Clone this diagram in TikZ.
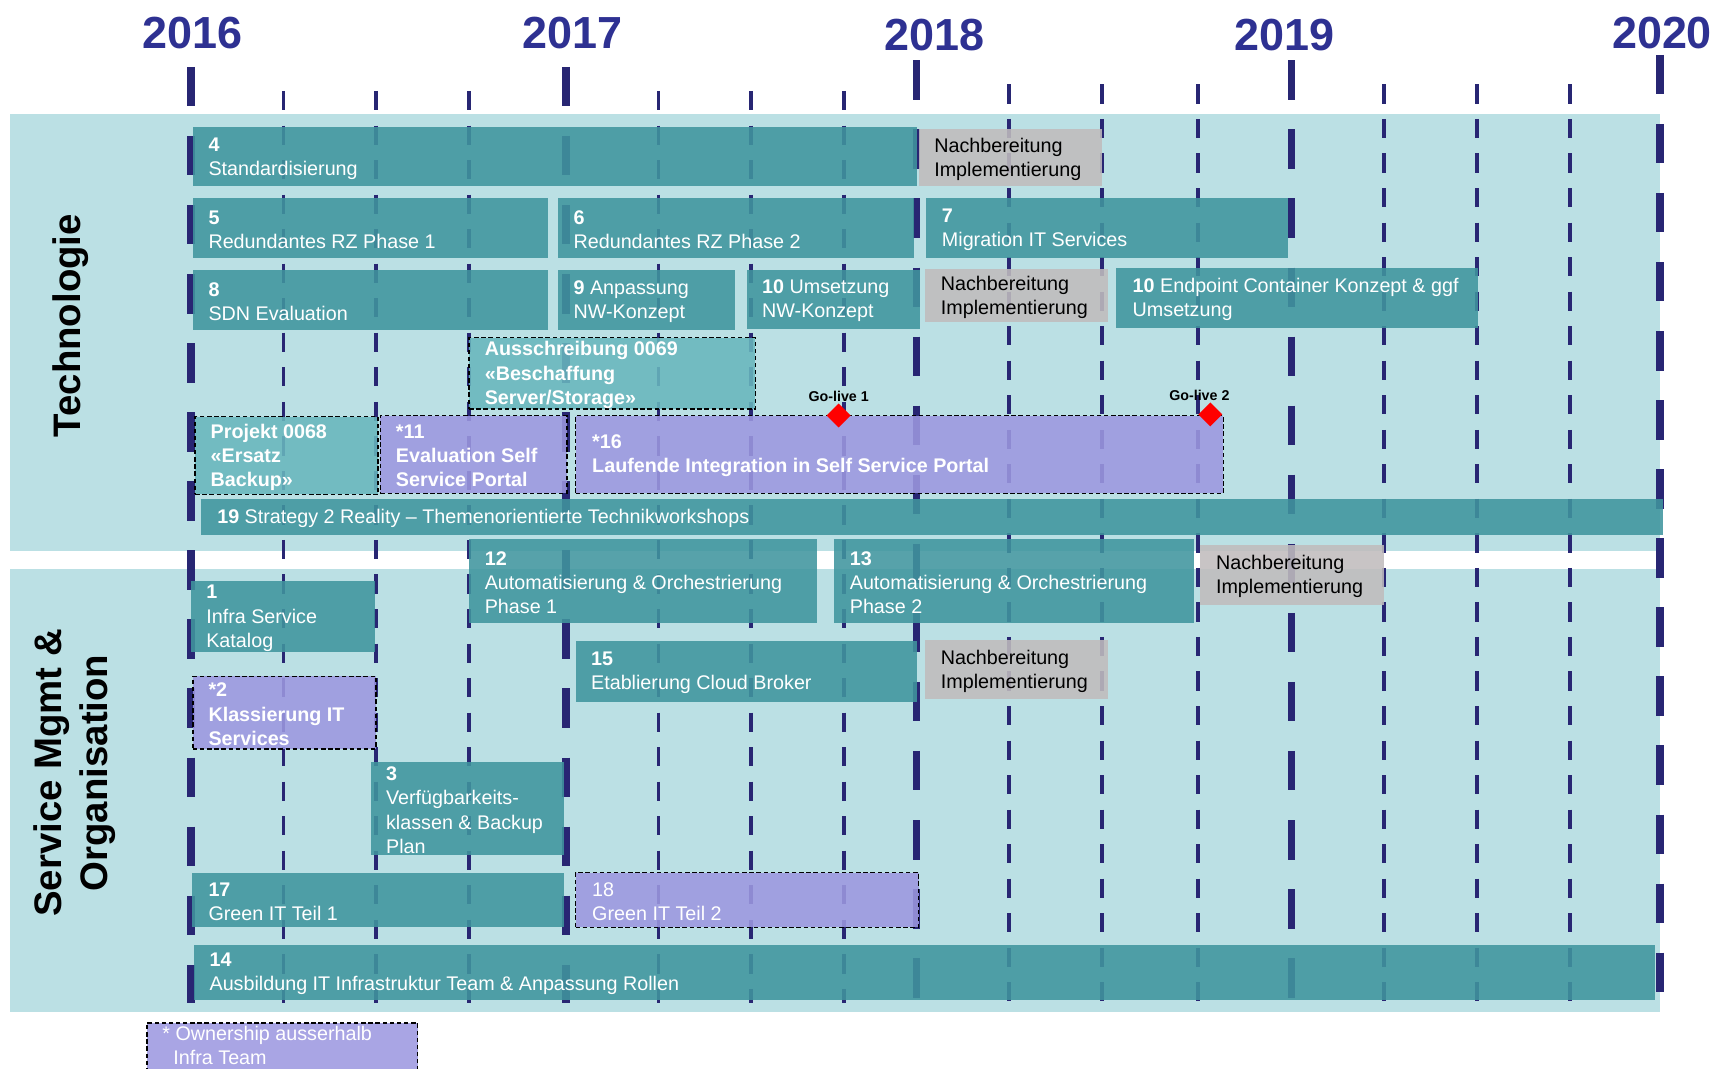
\documentclass[tikz,border=0pt]{standalone}
\usepackage{fontspec}
\setmainfont{Liberation Sans}
\usetikzlibrary{positioning,shapes.geometric}

\definecolor{bandbg}{RGB}{187,224,228}
\definecolor{gridblue}{RGB}{40,38,115}
\definecolor{yearblue}{RGB}{46,49,146}
\definecolor{taskteal}{RGB}{64,149,158}
\definecolor{tenderteal}{RGB}{104,183,189}
\definecolor{extpurple}{RGB}{157,152,224}
\definecolor{followgrey}{RGB}{192,188,189}

\tikzset{
  band/.style={fill=bandbg},
  yearline/.style={draw=gridblue, line width=7pt, dash pattern=on 36pt off 27pt},
  qline/.style={draw=gridblue, line width=3.5pt, dash pattern=on 17.5pt off 14pt},
  box/.style={anchor=north west, inner sep=0pt, outer sep=0pt, fill opacity=0.88},
  sz/.style 2 args={minimum width=#1pt, minimum height=#2pt},
  task/.style={box, fill=taskteal},
  follow/.style={box, fill=followgrey},
  ext/.style={box, fill=extpurple, draw=black, line width=1.4pt, dash pattern=on 4pt off 2.5pt},
  tender/.style={box, fill=tenderteal, draw=black, line width=1.4pt, dash pattern=on 4pt off 2.5pt},
  lbl/.style={inner sep=0pt, align=left, text=white, yshift=-1.5pt, font=\fontsize{18}{22}\selectfont},
  lbldark/.style={lbl, text=black},
  lblbold/.style={lbl, font=\fontsize{18}{22}\selectfont\bfseries},
  year/.style={anchor=base, text=yearblue, font=\fontsize{41}{41}\selectfont\bfseries},
  side/.style={rotate=90, align=center, font=\fontsize{35}{42}\selectfont\bfseries},
  golive/.style={diamond, fill=red, inner sep=0pt, minimum width=22pt, minimum height=22pt},
  golivetxt/.style={inner sep=0pt, font=\fontsize{13}{13}\selectfont\bfseries},
}

\begin{document}
\begin{tikzpicture}[x=1pt, y=-1pt]
\useasboundingbox (0,0) rectangle (1568,975);
\clip (0,0) rectangle (1568,975);

% bands
\fill[band] (9,104) rectangle (1514.6,502.6);
\fill[band] (9,519) rectangle (1514.6,923);

% time grid
\draw[yearline] (174,61) -- (174,915) (516,61) -- (516,915) (836,55) -- (836,915)
  (1178,55) -- (1178,915) (1514,50) -- (1514,915);
\draw[qline] (258.6,83) -- (258.6,915) (343,83) -- (343,915) (427.6,83) -- (427.6,915)
  (600.6,83) -- (600.6,915) (684.7,83) -- (684.7,915) (770,83) -- (770,915)
  (920.6,77) -- (920.6,915) (1005.4,77) -- (1005.4,915) (1093,77) -- (1093,915)
  (1262.6,77) -- (1262.6,915) (1347.4,77) -- (1347.4,915) (1432,77) -- (1432,915);

\node[year] (y2016) at (176,44) {2016};
\node[year] (y2017) at (522,44) {2017};
\node[year] (y2018) at (852,46) {2018};
\node[year] (y2019) at (1172,46) {2019};
\node[year] (y2020) at (1516,44) {2020};

\node[side] (tech) at (64,297) {Technologie};
\node[side] (svc) at (68,705) {Service Mgmt \&\\Organisation};

% Technologie
\node[task, sz={660}{54}] (b4) at (176,116) {};
\node[lbl, right=14pt of b4.west] (b4t) {\textbf{4}\\Standardisierung};
\node[follow, sz={167}{52}] (n4) at (838,118) {};
\node[lbldark, right=14pt of n4.west] (n4t) {Nachbereitung\\Implementierung};

\node[task, sz={324}{54}] (b5) at (176,181) {};
\node[lbl, right=14pt of b5.west] (b5t) {\textbf{5}\\Redundantes RZ Phase 1};
\node[task, sz={325}{54}] (b6) at (509,181) {};
\node[lbl, right=14pt of b6.west] (b6t) {\textbf{6}\\Redundantes RZ Phase 2};
\node[task, sz={330}{54}] (b7) at (845,181) {};
\node[lbl, right=14pt of b7.west] (b7t) {\textbf{7}\\Migration IT Services};

\node[task, sz={324}{55}] (b8) at (176,246) {};
\node[lbl, right=14pt of b8.west] (b8t) {\textbf{8}\\SDN Evaluation};
\node[task, sz={161}{55}] (b9) at (509,246) {};
\node[lbl, right=14pt of b9.west] (b9t) {\textbf{9} Anpassung\\NW-Konzept};
\node[task, sz={158}{54}] (b10) at (681,246) {};
\node[lbl, right=14pt of b10.west] (b10t) {\textbf{10} Umsetzung\\NW-Konzept};
\node[follow, sz={167}{49}] (n10) at (844,245) {};
\node[lbldark, right=14pt of n10.west] (n10t) {Nachbereitung\\Implementierung};
\node[task, sz={330}{55}] (b10e) at (1018,244) {};
\node[lbl, right=15pt of b10e.west] (b10et) {\textbf{10} Endpoint Container Konzept \& ggf\\Umsetzung};

\node[tender, sz={261}{65}] (a69) at (428,308) {};
\node[lblbold, right=14pt of a69.west] (a69t) {Ausschreibung 0069\\«Beschaffung\\Server/Storage»};

\node[tender, sz={167}{71}] (p68) at (178,380) {};
\node[lblbold, right=14pt of p68.west] (p68t) {Projekt 0068\\«Ersatz\\Backup»};
\node[ext, sz={170}{71}] (e11) at (347,379) {};
\node[lblbold, right=14pt of e11.west] (e11t) {*11\\Evaluation Self\\Service Portal};
\node[ext, sz={591}{71}] (e16) at (525,379) {};
\node[lblbold, right=15pt of e16.west] (e16t) {*16\\Laufende Integration in Self Service Portal};

\node[golive] (gl1) at (765,379) {};
\node[golivetxt, above=1pt of gl1] (gl1t) {Go-live 1};
\node[golive] (gl2) at (1104,378) {};
\node[golivetxt, above=1pt of gl2, xshift=-10pt] (gl2t) {Go-live 2};

\node[task, sz={1334}{33}] (b19) at (183,455) {};
\node[lbl, right=15pt of b19.west] (b19t) {\textbf{19} Strategy 2 Reality – Themenorientierte Technikworkshops};

% Service Mgmt & Organisation
\node[task, sz={317}{76}] (b12) at (428,492) {};
\node[lbl, right=14pt of b12.west] (b12t) {\textbf{12}\\Automatisierung \& Orchestrierung\\Phase 1};
\node[task, sz={328}{76}] (b13) at (761,492) {};
\node[lbl, right=14pt of b13.west] (b13t) {\textbf{13}\\Automatisierung \& Orchestrierung\\Phase 2};
\node[follow, sz={167}{55}] (n13) at (1095,497) {};
\node[lbldark, right=14pt of n13.west] (n13t) {Nachbereitung\\Implementierung};

\node[task, sz={168}{65}] (b1) at (174,530) {};
\node[lbl, right=14pt of b1.west] (b1t) {\textbf{1}\\Infra Service\\Katalog};
\node[task, sz={311}{55}] (b15) at (525,585) {};
\node[lbl, right=14pt of b15.west] (b15t) {\textbf{15}\\Etablierung Cloud Broker};
\node[follow, sz={167}{54}] (n15) at (844,584) {};
\node[lbldark, right=14pt of n15.west] (n15t) {Nachbereitung\\Implementierung};
\node[ext, sz={167}{66}] (e2) at (176,617) {};
\node[lblbold, right=14pt of e2.west] (e2t) {*2\\Klassierung IT\\Services};
\node[task, sz={176}{85}] (b3) at (338,695) {};
\node[lbl, right=14pt of b3.west] (b3t) {\textbf{3}\\Verfügbarkeits-\\klassen \& Backup\\Plan};
\node[task, sz={339}{50}] (b17) at (175,796) {};
\node[lbl, right=15pt of b17.west] (b17t) {\textbf{17}\\Green IT Teil 1};
\node[ext, sz={313}{50}] (e18) at (525,796) {};
\node[lbl, right=15pt of e18.west] (e18t) {18\\Green IT Teil 2};
\node[task, sz={1333}{50}] (b14) at (177,862) {};
\node[lbl, right=14pt of b14.west] (b14t) {\textbf{14}\\Ausbildung IT Infrastruktur Team \& Anpassung Rollen};

% legend
\node[ext, sz={247}{50}] (own) at (134,933) {};
\node[lbl, below right=1pt and 14pt of own.north west] (ownt) {* Ownership ausserhalb\\\hspace*{10pt}Infra Team};
\end{tikzpicture}
\end{document}
